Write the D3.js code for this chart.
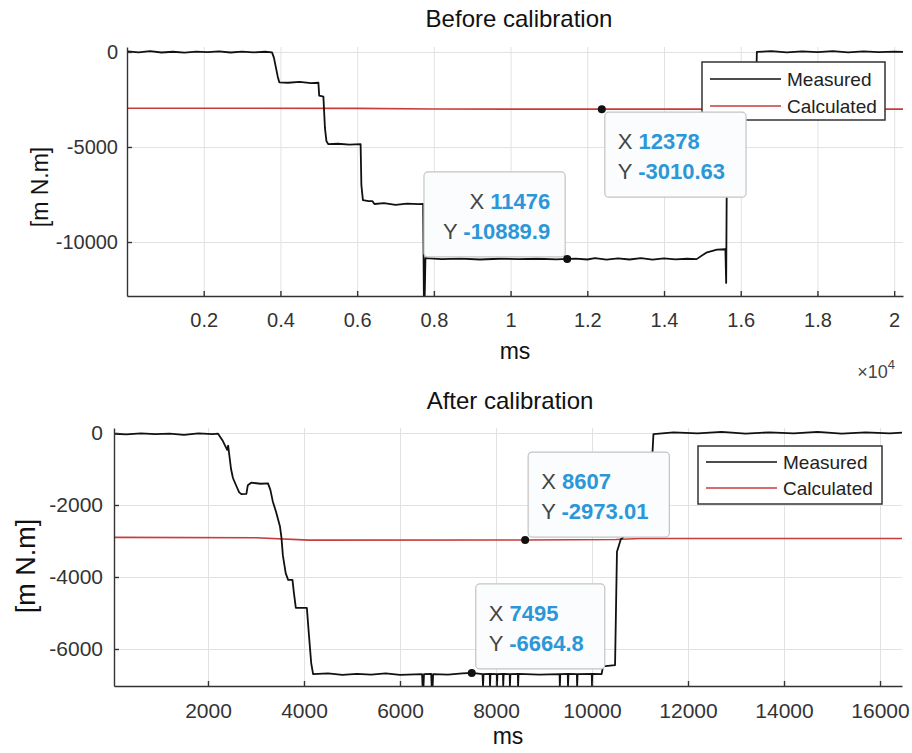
<!DOCTYPE html>
<html>

<style>
    body {
        margin: 0;
        background: #fff;
        font-family: Arial, "Liberation Sans", Helvetica, sans-serif;
    }

    .grid line { stroke: #e2e2e2; stroke-width: 1; }
    .grid path { display: none; }
    .axis path, .axis line { stroke: #333; stroke-width: 1.4; }
    .axis text { fill: #333; }
    .title, .label { fill: #111; text-anchor: middle; }
    .legend rect { fill: #fff; stroke: #333; stroke-width: 1.5; }
    .legend text { fill: #222; font-size: 19px; }
    .tip rect { fill: #fbfcfd; stroke: #c4c4c4; stroke-width: 1.2; }
    .tip .key { fill: #444; }
    .tip .val { fill: #2b97d8; font-weight: bold; }
</style>

<body>
    <svg id='viz' width='912' height='753'></svg>

<script src="https://cdnjs.cloudflare.com/ajax/libs/d3/7.8.5/d3.min.js"></script>

<script>
    // ---- data: [ms, m N.m] ----
    var beforeMeasured = [
        [20, 30], [300, -20], [600, 40], [900, -30], [1200, 10], [1500, -40], [1800, 20],
        [2100, -10], [2400, 30], [2700, -30], [3000, 20], [3300, -20], [3600, 10], [3780, -20],
        [3830, -300], [3880, -800], [3930, -1300], [3970, -1600], [4200, -1620], [4500, -1580],
        [4800, -1640], [4990, -1620], [5010, -2300], [5120, -2350], [5160, -4000], [5200, -4700],
        [5250, -4850], [5500, -4830], [5800, -4880], [6090, -4850], [6110, -7000], [6150, -7800],
        [6300, -7850], [6400, -7850], [6450, -8000], [6700, -7950], [7000, -8050], [7300, -7980],
        [7600, -8010], [7720, -7990], [7740, -13000], [7760, -13000], [7780, -10850], [8200, -10900],
        [8700, -10870], [9200, -10920], [9700, -10880], [10200, -10900], [10700, -10880],
        [11200, -10910], [11476, -10890], [11700, -10870], [12000, -10920], [12200, -10850],
        [12500, -10930], [12800, -10860], [13100, -10920], [13400, -10850], [13700, -10930],
        [14000, -10860], [14300, -10910], [14600, -10880], [14850, -10900], [15100, -10560],
        [15380, -10400], [15600, -10380], [15620, -12150], [15650, -2000], [16400, -2000],
        [16420, 0], [16800, 40], [17200, -20], [17600, 30], [18000, -10], [18400, 40],
        [18800, -20], [19200, 30], [19600, -10], [20000, 20], [20230, 0]
    ];
    var beforeCalculated = [[0, -2960], [6000, -2970], [8000, -3005], [12378, -3010.63], [20230, -3010]];

    var afterMeasured = [
        [42, -20], [300, -40], [600, -10], [900, -30], [1200, -20], [1500, -50], [1800, -10],
        [2100, -30], [2210, -20], [2300, -200], [2400, -470], [2420, -350], [2480, -1000],
        [2520, -1250], [2600, -1500], [2650, -1650], [2700, -1700], [2800, -1690], [2830, -1450],
        [2900, -1380], [3100, -1410], [3250, -1400], [3300, -1580], [3350, -1900], [3420, -2200],
        [3500, -2600], [3530, -2900], [3560, -3400], [3620, -3900], [3670, -4080], [3760, -4080],
        [3790, -4440], [3830, -4860], [4060, -4860], [4100, -5560], [4150, -6390], [4190, -6700],
        [4500, -6680], [4800, -6720], [5100, -6690], [5400, -6710], [5700, -6680], [6000, -6720],
        [6460, -6700], [6470, -7030], [6490, -7030], [6500, -6700], [6650, -6690], [6660, -7030],
        [6680, -7030], [6690, -6700], [7000, -6710], [7300, -6680], [7495, -6664.8], [7720, -6700],
        [7730, -7030], [7740, -6700], [7870, -6690], [7875, -7030], [7885, -6690], [8015, -6700],
        [8020, -7030], [8030, -6700], [8145, -6690], [8150, -7030], [8160, -6690], [8285, -6700],
        [8290, -7030], [8300, -6700], [8455, -6690], [8460, -7030], [8470, -6690], [8900, -6710],
        [9325, -6700], [9330, -7030], [9340, -6700], [9495, -6690], [9500, -7030], [9510, -6690],
        [9685, -6700], [9690, -7030], [9700, -6700], [9995, -6690], [10000, -7030], [10010, -6690],
        [10200, -6700], [10230, -6480], [10480, -6450], [10520, -3300], [10600, -2950],
        [10650, -2900], [11250, -800], [11280, -30], [11700, 20], [12200, -10], [12700, 30],
        [13200, -20], [13700, 20], [14200, -10], [14700, 30], [15200, -20], [15700, 20],
        [16200, -10], [16458, 10]
    ];
    var afterCalculated = [[42, -2900], [3000, -2910], [4100, -2975], [8607, -2973.01], [10500, -2960], [11000, -2930], [16458, -2930]];

    var beforeTips = [[11476, -10889.9], [12378, -3010.63]];
    var afterTips = [[8607, -2973.01], [7495, -6664.8]];

    var beforeXTicks = [2000, 4000, 6000, 8000, 10000, 12000, 14000, 16000, 18000, 20000];
    var beforeYTicks = [0, -5000, -10000];
    var afterXTicks = [2000, 4000, 6000, 8000, 10000, 12000, 14000, 16000];
    var afterYTicks = [0, -2000, -4000, -6000];

    var seriesNames = ['Measured', 'Calculated'];
    var seriesColors = ['#111', '#c83c3c'];

    var svg = d3.select('#viz');

    drawPanel({
        id: 'before', title: 'Before calibration',
        left: 127, right: 903, top: 47, bottom: 296,
        xDomain: [0, 20230], yDomain: [-12840, 260],
        xTicks: beforeXTicks, yTicks: beforeYTicks,
        xFormat: function(d) { return String(d / 10000); },
        font: 20, xPad: 17, yPad: 9,
        titleY: 27, titleX: 519, xLabelY: 359, yLabelX: 40, yLabelY: 187, yLabelFont: 23,
        measured: beforeMeasured, calculated: beforeCalculated,
        legend: { x: 702, y: 62, w: 183, h: 58, row1: 79, row2: 106 },
        tips: beforeTips,
        tipPlace: [{ side: 'upleft', gap: 2 }, { side: 'downright', gap: 3 }],
        exponent: true
    });

    drawPanel({
        id: 'after', title: 'After calibration',
        left: 114, right: 902, top: 428, bottom: 686,
        xDomain: [42, 16458], yDomain: [-7028, 139],
        xTicks: afterXTicks, yTicks: afterYTicks,
        xFormat: function(d) { return String(d); },
        font: 21, xPad: 17, yPad: 11,
        titleY: 409, titleX: 510, xLabelY: 744, yLabelX: 26, yLabelY: 566, yLabelFont: 27,
        measured: afterMeasured, calculated: afterCalculated,
        legend: { x: 698, y: 446, w: 184, h: 58, row1: 462, row2: 488 },
        tips: afterTips,
        tipPlace: [{ side: 'upright', gap: 3 }, { side: 'upright', gap: 4 }],
        exponent: false
    });

    function drawPanel(c) {
        var g = svg.append('g').attr('class', c.id);
        var w = c.right - c.left, h = c.bottom - c.top;

        var x = d3.scaleLinear().domain(c.xDomain).range([c.left, c.right]);
        var y = d3.scaleLinear().domain(c.yDomain).range([c.bottom, c.top]);

        // grid
        g.append('g').attr('class', 'grid')
            .attr('transform', 'translate(0,' + c.bottom + ')')
            .call(d3.axisBottom(x).tickValues(c.xTicks).tickSize(-h).tickFormat(''));
        g.append('g').attr('class', 'grid')
            .attr('transform', 'translate(' + c.left + ',0)')
            .call(d3.axisLeft(y).tickValues(c.yTicks).tickSize(-w).tickFormat(''));

        g.append('clipPath').attr('id', 'clip-' + c.id)
            .append('rect').attr('x', c.left).attr('y', c.top).attr('width', w).attr('height', h);

        var line = d3.line().x(function(d) { return x(d[0]); }).y(function(d) { return y(d[1]); });

        g.append('path').datum(c.calculated)
            .attr('clip-path', 'url(#clip-' + c.id + ')')
            .attr('fill', 'none').attr('stroke', seriesColors[1]).attr('stroke-width', 1.6)
            .attr('d', line);
        g.append('path').datum(c.measured)
            .attr('clip-path', 'url(#clip-' + c.id + ')')
            .attr('fill', 'none').attr('stroke', seriesColors[0]).attr('stroke-width', 1.8)
            .attr('stroke-linejoin', 'round')
            .attr('d', line);

        // axes, ticks point inward
        g.append('g').attr('class', 'axis')
            .attr('transform', 'translate(0,' + c.bottom + ')')
            .style('font-size', c.font + 'px')
            .call(d3.axisBottom(x).tickValues(c.xTicks).tickSizeInner(-5).tickSizeOuter(0)
                .tickPadding(c.xPad).tickFormat(c.xFormat));
        g.append('g').attr('class', 'axis')
            .attr('transform', 'translate(' + c.left + ',0)')
            .style('font-size', c.font + 'px')
            .call(d3.axisLeft(y).tickValues(c.yTicks).tickSizeInner(-5).tickSizeOuter(0)
                .tickPadding(c.yPad).tickFormat(function(d) { return String(d); }));
        g.selectAll('.axis text').attr('font-family', null);

        g.append('text').attr('class', 'title')
            .attr('x', c.titleX).attr('y', c.titleY)
            .style('font-size', '24px').text(c.title);
        g.append('text').attr('class', 'label')
            .attr('x', (c.left + c.right) / 2).attr('y', c.xLabelY)
            .style('font-size', '23px').text('ms');
        g.append('text').attr('class', 'label')
            .attr('transform', 'translate(' + c.yLabelX + ',' + c.yLabelY + ') rotate(-90)')
            .attr('dy', '0.35em')
            .style('font-size', c.yLabelFont + 'px').text('[m N.m]');

        if (c.exponent) {
            var ex = g.append('text').attr('x', c.right - 8).attr('y', 378)
                .attr('text-anchor', 'end').style('font-size', '18px').attr('fill', '#444');
            ex.append('tspan').text('\u00d710');
            ex.append('tspan').attr('dy', -9).style('font-size', '13px').text('4');
        }

        // legend
        var L = c.legend;
        var lg = g.append('g').attr('class', 'legend');
        lg.append('rect').attr('x', L.x).attr('y', L.y).attr('width', L.w).attr('height', L.h);
        [L.row1, L.row2].forEach(function(ry, i) {
            lg.append('line')
                .attr('x1', L.x + 8).attr('x2', L.x + 79).attr('y1', ry).attr('y2', ry)
                .attr('stroke', seriesColors[i]).attr('stroke-width', 1.6);
            lg.append('text').attr('x', L.x + 85).attr('y', ry).attr('dy', '0.35em')
                .text(seriesNames[i]);
        });

        // data tips
        c.tips.forEach(function(t, i) {
            var px = x(t[0]), py = y(t[1]);
            var place = c.tipPlace[i];
            var tg = g.append('g').attr('class', 'tip');
            var rect = tg.append('rect').attr('rx', 4).attr('ry', 4);
            var anchor = place.side === 'upleft' ? 'end' : 'start';
            var rows = [['X', String(t[0])], ['Y', String(t[1])]];
            var texts = rows.map(function(r, k) {
                var tx = tg.append('text').attr('y', 37 + k * 30)
                    .style('font-size', '22px').attr('text-anchor', anchor);
                tx.append('tspan').attr('class', 'key').text(r[0] + ' ');
                tx.append('tspan').attr('class', 'val').text(r[1]);
                return tx;
            });
            var tw = d3.max(texts, function(tx) { return tx.node().getComputedTextLength(); });
            var bw = tw + 34, bh = 85;
            var bx, by;
            if (place.side === 'upleft') { bx = px - place.gap - bw; by = py - place.gap - bh; }
            else if (place.side === 'downright') { bx = px + place.gap; by = py + place.gap; }
            else { bx = px + place.gap; by = py - place.gap - bh; }
            rect.attr('x', bx).attr('y', by).attr('width', bw).attr('height', bh);
            texts.forEach(function(tx) {
                tx.attr('x', anchor === 'end' ? bx + bw - 15 : bx + 13)
                    .attr('y', by + +tx.attr('y'));
            });
            g.append('circle').attr('cx', px).attr('cy', py).attr('r', 4).attr('fill', '#111');
        });
    }
</script>
</body>
</html>
